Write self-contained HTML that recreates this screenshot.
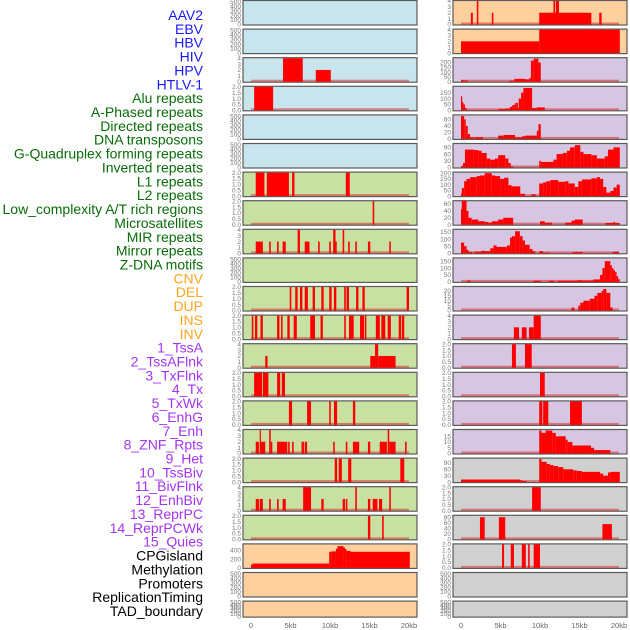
<!DOCTYPE html>
<html><head><meta charset="utf-8">
<style>
html,body{margin:0;padding:0;background:#fff;}
svg{display:block;font-family:"Liberation Sans",sans-serif;}
</style></head>
<body>
<svg id="chart" width="630" height="630" viewBox="0 0 630 630" xmlns="http://www.w3.org/2000/svg"></svg>
<script>
// ---- labels ----
const labelNames = ["AAV2","EBV","HBV","HIV","HPV","HTLV-1","Alu repeats","A-Phased repeats","Directed repeats","DNA transposons","G-Quadruplex forming repeats","Inverted repeats","L1 repeats","L2 repeats","Low_complexity A/T rich regions","Microsatellites","MIR repeats","Mirror repeats","Z-DNA motifs","CNV","DEL","DUP","INS","INV","1_TssA","2_TssAFlnk","3_TxFlnk","4_Tx","5_TxWk","6_EnhG","7_Enh","8_ZNF_Rpts","9_Het","10_TssBiv","11_BivFlnk","12_EnhBiv","13_ReprPC","14_ReprPCWk","15_Quies","CPGisland","Methylation","Promoters","ReplicationTiming","TAD_boundary"];
const labelGroups = ["v","v","v","v","v","v","r","r","r","r","r","r","r","r","r","r","r","r","r","s","s","s","s","s","c","c","c","c","c","c","c","c","c","c","c","c","c","c","c","o","o","o","o","o"];

// ---- panel data: [startKb, endKb, value] ----
const L0=[],L1=[];
const L2=[[4.05,6.55,4],[8.2,10.1,2]];
const L3=[[0.4,2.8,2]];
const L4=[],L5=[];
const L6=[[0.6,1.7,2],[2.0,4.8,2],[5.2,5.5,2],[12.0,12.5,2]];
const L7=[[15.4,15.6,2]];
const L8=[[0.6,1.5,2],[2.3,2.5,2],[3.3,3.5,2],[4.0,4.4,2],[5.9,6.2,4],[6.8,7.4,2],[8.5,8.7,2],[9.9,10.1,2],[10.4,10.7,4],[10.7,10.8,2],[11.6,11.8,4],[12.3,12.5,2],[13.2,13.4,2],[14.8,15.1,2],[17.5,17.7,2]];
const L9=[];
const L10=[[4.9,5.1,2],[5.6,5.9,2],[6.2,6.5,2],[6.8,7.2,2],[7.8,8.1,2],[8.9,9.2,2],[9.9,10.2,2],[10.5,10.8,2],[11.8,12.0,2],[12.1,12.4,2],[13.3,13.6,2],[14.1,14.4,2],[19.7,20.0,2]];
const L11=[[0.1,0.3,2],[0.5,0.8,2],[1.2,1.5,2],[3.3,3.6,2],[3.8,4.0,2],[4.6,4.9,2],[5.4,5.8,2],[7.5,8.1,2],[8.8,9.1,2],[11.8,12.0,2],[12.4,13.0,2],[13.8,14.3,2],[14.4,14.6,2],[15.8,16.3,2],[16.5,17.0,2],[17.3,17.7,2],[18.7,19.0,2],[19.1,19.4,2]];
const L12=[[1.8,2.1,2],[15.1,15.7,2],[15.7,16.1,4],[16.1,18.3,2]];
const L13=[[0.4,1.4,2],[1.5,2.2,2],[3.3,3.7,2],[3.9,4.3,2]];
const L14=[[4.8,5.2,2],[7.1,7.6,2],[9.9,10.1,2],[10.5,10.9,2],[12.9,13.2,2]];
const L15=[[0.6,1.0,2],[1.1,1.2,4],[1.2,1.8,2],[2.3,2.5,4],[2.5,2.7,2],[3.3,4.6,2],[4.7,4.9,2],[5.2,5.4,2],[6.4,6.7,2],[6.8,7.1,2],[10.4,10.6,2],[12.0,12.2,2],[12.9,13.7,2],[14.8,15.1,2],[16.3,17.2,2],[17.3,17.5,4],[17.5,18.3,2],[19.5,19.7,2]];
const L16=[[10.6,10.9,2],[11.1,11.5,2],[12.3,12.7,2],[18.9,19.4,2]];
const L17=[[0.6,1.0,2],[1.1,1.5,2],[2.3,2.5,2],[3.3,3.5,2],[4.0,4.4,2],[6.6,7.6,4],[8.9,9.2,2],[11.6,11.9,2],[12.0,12.2,2],[13.2,13.4,4],[14.8,15.1,2],[15.4,16.0,2],[16.2,16.6,2],[17.5,17.7,4]];
const L18=[[14.8,15.1,2],[16.6,16.8,2]];
const L19=[[0,0.2,80],[0.2,9.9,100],[9.9,10.2,370],[10.2,10.75,380],[10.75,10.95,440],[10.95,11.7,500],[11.7,11.9,470],[11.9,12.1,430],[12.1,12.6,390],[12.6,20.1,370]];
const L20=[],L21=[];

const R0=[[1.25,1.5,2],[2.0,2.2,4],[3.9,4.1,2],[9.9,16.5,2],[11.7,11.9,4],[12.0,12.4,4],[17.5,17.8,2]];
const R1=[[0,9.9,2],[9.9,20.1,4]];
const R2=[[0,0.1,20],[0.1,0.85,12],[6.1,6.75,10],[6.75,8.1,30],[8.1,8.65,25],[8.65,8.85,40],[8.85,9.2,220],[9.2,9.8,240],[9.8,10.1,200]];
const R3=[[0,0.1,120],[0.1,0.3,70],[0.3,0.5,50],[0.5,0.7,20],[0.7,4.7,2],[4.7,5.6,10],[5.6,6.2,15],[6.2,6.5,30],[6.5,6.8,45],[6.8,7.0,60],[7.0,7.2,65],[7.2,7.3,20],[7.3,7.6,100],[7.6,7.9,150],[7.9,9.0,190],[9.0,9.6,20],[9.6,10.6,25]];
const R4=[[0,0.4,70],[0.4,0.6,60],[0.6,0.85,40],[0.85,1.15,15],[1.15,1.6,5],[1.7,2.8,5],[4.7,5.4,10],[5.4,6.85,12],[6.85,7.7,5],[7.7,8.1,8],[8.1,9.6,10],[9.6,9.8,25],[9.8,10.1,45]];
const R5=[[0,0.25,5],[0.25,0.5,20],[0.5,1.6,80],[1.6,2.2,78],[2.2,2.6,75],[2.6,3.25,65],[3.25,3.7,40],[3.7,4.3,35],[4.3,4.7,40],[4.7,5.6,55],[5.6,6.0,40],[6.0,6.3,20],[6.3,6.6,5],[9.9,10.1,30],[10.1,11.7,25],[11.7,12.1,35],[12.1,12.9,60],[12.9,13.4,65],[13.4,13.8,75],[13.8,14.4,90],[14.4,15.1,100],[15.1,15.5,70],[15.5,16.5,60],[16.5,17.2,55],[17.2,18.2,40],[18.2,18.6,50],[18.6,19.3,80],[19.3,20.1,90]];
const R6=[[0,0.1,25],[0.1,0.4,70],[0.4,0.7,130],[0.7,1.15,150],[1.15,2.0,165],[2.0,2.4,175],[2.4,3.0,180],[3.0,3.9,200],[3.9,4.3,180],[4.3,4.95,175],[4.95,5.45,150],[5.45,6.0,160],[6.0,6.4,95],[6.4,7.5,85],[7.5,8.1,20],[8.9,9.45,15],[9.9,10.4,110],[10.4,10.8,120],[10.8,11.3,130],[11.3,12.3,140],[12.3,13.2,125],[13.2,13.6,130],[13.6,14.4,110],[14.4,14.85,80],[14.85,15.3,130],[15.3,16.5,145],[16.5,17.2,155],[17.2,17.6,165],[17.6,18.0,150],[18.0,18.4,80],[18.4,18.9,30],[18.9,19.3,45],[19.3,19.7,75],[19.7,20.1,100]];
const R7=[[0,0.1,45],[0.1,0.7,70],[0.7,0.95,40],[0.95,1.35,20],[1.35,2.2,15],[2.2,3.0,10],[3.0,3.45,8],[3.45,3.9,6],[3.9,4.7,10],[4.7,5.35,15],[5.35,6.6,20],[10.0,10.6,10],[10.6,11.5,6],[13.2,14.0,6],[14.0,14.4,12],[14.4,15.4,15],[18.3,19.3,5],[19.3,19.5,8],[19.5,20.1,5]];
const R8=[[0,0.4,75],[0.4,0.7,50],[0.7,0.95,25],[0.95,1.45,10],[1.7,2.6,12],[2.6,3.0,18],[3.0,3.7,15],[3.7,4.1,35],[4.1,4.5,55],[4.5,5.8,45],[5.8,6.2,55],[6.2,6.45,110],[6.45,6.85,120],[6.85,7.45,155],[7.45,7.8,120],[7.8,8.1,90],[8.1,8.7,60],[8.7,9.05,30],[9.05,9.4,15],[9.9,10.4,15],[10.4,11.25,5],[14.1,15.4,8],[19.2,20.0,10]];
const R9=[[0.8,1.2,10],[9.2,10.1,8],[11.1,11.8,8],[12.2,14.8,8],[14.8,15.2,12],[15.2,15.9,10],[15.95,16.75,10],[16.75,17.6,18],[17.6,17.9,50],[17.9,18.2,100],[18.2,18.9,150],[18.9,19.1,120],[19.1,19.3,100],[19.3,19.5,85],[19.5,19.7,70],[19.7,19.9,40],[19.9,20.1,20]];
const R10=[[14.0,14.35,3],[14.85,15.1,5],[15.1,15.5,8],[15.5,16.3,10],[16.3,16.9,12],[16.9,17.25,15],[17.25,17.8,18],[17.8,18.0,20],[18.0,18.4,22],[18.4,18.9,18],[18.9,19.2,3]];
const R11=[[6.7,7.35,2],[7.7,8.3,2],[8.6,9.2,2],[9.2,10.1,4]];
const R12=[[6.45,6.95,2],[8.1,8.95,2]];
const R13=[[10.0,10.6,2]];
const R14=[[9.9,10.3,2],[10.4,11.05,2],[13.8,15.3,2]];
const R15=[[9.9,10.2,20],[10.2,10.7,18],[10.7,11.55,20],[11.55,12.0,18],[12.0,13.25,15],[13.25,13.5,12],[13.5,14.1,10],[14.1,16.45,7],[16.45,16.85,5],[16.85,18.9,3]];
const R16=[[0,7.5,12],[7.5,7.8,8],[7.8,8.3,5],[9.9,10.2,108],[10.2,10.85,95],[10.85,11.25,85],[11.25,11.7,80],[11.7,12.3,75],[12.3,12.95,70],[12.95,14.2,60],[14.2,14.65,55],[14.65,15.3,52],[15.3,17.6,48],[17.6,18.0,40],[18.0,18.6,30],[18.6,18.9,45],[18.9,20.1,48]];
const R17=[[9.0,10.1,2]];
const R18=[[2.4,3.0,80],[4.8,5.6,80],[17.9,19.1,55]];
const R19=[[5.2,5.45,2],[6.3,6.7,2],[7.7,8.2,2],[8.5,8.7,2],[9.2,10.0,2]];
const R20=[],R21=[];

const leftData=[L0,L1,L2,L3,L4,L5,L6,L7,L8,L9,L10,L11,L12,L13,L14,L15,L16,L17,L18,L19,L20,L21];
const rightData=[R0,R1,R2,R3,R4,R5,R6,R7,R8,R9,R10,R11,R12,R13,R14,R15,R16,R17,R18,R19,R20,R21];
const leftMax=[520,520,4,2,520,520,2,2,4,520,2,2,4,2,2,4,2,4,2,540,520,520];
const rightMax=[4,4,245,200,72,105,205,68,165,170,24,4,2,2,2,20.5,110,2,85,2,520,520];
const leftTicks=["e","e","4","2","e","e","2","2","4","e","2","2","4","2","2","4","2","4","2","m","e","e"];
const rightTicks=["4","4","p200/50","p150/50","p60/20","p90/30","p200/50","p60/20","p150/50","p150/50","p20/5","4","2","2","2","p15/5","p90/30","2","p80/20","2","e","e"];
const leftColors=["b","b","b","b","b","b","g","g","g","g","g","g","g","g","g","g","g","g","g","o","o","o"];
const rightColors=["o","o","p","p","p","p","p","p","p","p","p","p","p","p","p","p","y","y","y","y","y","y"];
const xTickKb=[0,5,10,15,20];
const xTickLabels=["0","5kb","10kb","15kb","20kb"];

// ---- layout ----
const NS="http://www.w3.org/2000/svg";
const svg=document.getElementById("chart");
const fillMap={b:"#c8e4ec",g:"#c8e1a3",o:"#fed09e",p:"#d6c6e1",y:"#d0d0d0"};
const labelColor={v:"#1a1aff",r:"#0a6b0a",s:"#ffa51f",c:"#a235f0",o:"#000"};
const PERIOD=28.6, PH=24.5;
function kbX(col,kb){return (col===0?251:461)+kb*7.9;}
function mk(tag,attrs){const e=document.createElementNS(NS,tag);for(const k in attrs)e.setAttribute(k,attrs[k]);return e;}
function tickVals(code,max){
  if(code==="e") return [0,100,200,300,400,500];
  if(code==="m") return [0,200,400];
  if(code==="2") return [0,0.5,1,1.5,2];
  if(code==="4") return [0,1,2,3,4];
  const parts=code.slice(1).split("/");
  const top=parseFloat(parts[0]), step=parseFloat(parts[1]); const a=[];
  for(let v=0;v<=top+1e-9;v+=step)a.push(v);return a;
}
function fmt(code,v){return code==="2"?v.toFixed(1):String(v);}

for(let i=0;i<labelNames.length;i++){
  const t=mk("text",{x:203,y:20+13.86*i,"text-anchor":"end","font-size":"14",fill:labelColor[labelGroups[i]]});
  
  
  t.textContent=labelNames[i];svg.appendChild(t);
}

function drawPanel(col,i,data,max,tcode,color){
  const x0=col===0?243:453, w=174;
  const top=0.5+PERIOD*i; const h=(i===21)?16:PH;
  const bottom=top+h-0.5;
  const yS=v=>bottom-(v/max)*(h-1);
  const g=mk("g",{});
  
  
  const bg=mk("rect",{x:x0,y:top,width:w,height:h,fill:fillMap[color],stroke:"#5a5a5a","stroke-width":"1.2"});
  
  
  g.appendChild(bg);
  if(data.length){
    const base=mk("rect",{x:kbX(col,0),y:bottom-2,width:kbX(col,20)-kbX(col,0),height:2,fill:"rgba(220,30,30,0.5)"});
    
    
    g.appendChild(base);
  }
  data.forEach(d=>{
    const xa=kbX(col,d[0]), xb=kbX(col,d[1]); const y=Math.max(top,yS(d[2]));
    const r=mk("rect",{x:xa,y:y,width:Math.max(1.2,xb-xa),height:bottom-y,fill:"#ff0000"});
    
    
    g.appendChild(r);
  });
  const tv=tickVals(tcode,max);
  const tmax=(tcode==="e")?520:max;
  tv.forEach(v=>{
    const yy=bottom-(v/tmax)*(h-1);
    const t=mk("text",{x:x0-2,y:yy+2.2,"text-anchor":"end","font-size":"6.5",fill:"#777"});
    
    
    t.textContent=fmt(tcode,v);g.appendChild(t);
  });
  svg.appendChild(g);
}
for(let i=0;i<22;i++){
  drawPanel(0,i,leftData[i],leftMax[i],leftTicks[i],leftColors[i]);
  drawPanel(1,i,rightData[i],rightMax[i],rightTicks[i],rightColors[i]);
}
for(let c=0;c<2;c++){
  xTickKb.forEach((kb,j)=>{
    const t=mk("text",{x:kbX(c,kb),y:628,"text-anchor":"middle","font-size":"7.5",fill:"#666"});
    
    
    t.textContent=xTickLabels[j];svg.appendChild(t);
  });
}
</script>
</body></html>
